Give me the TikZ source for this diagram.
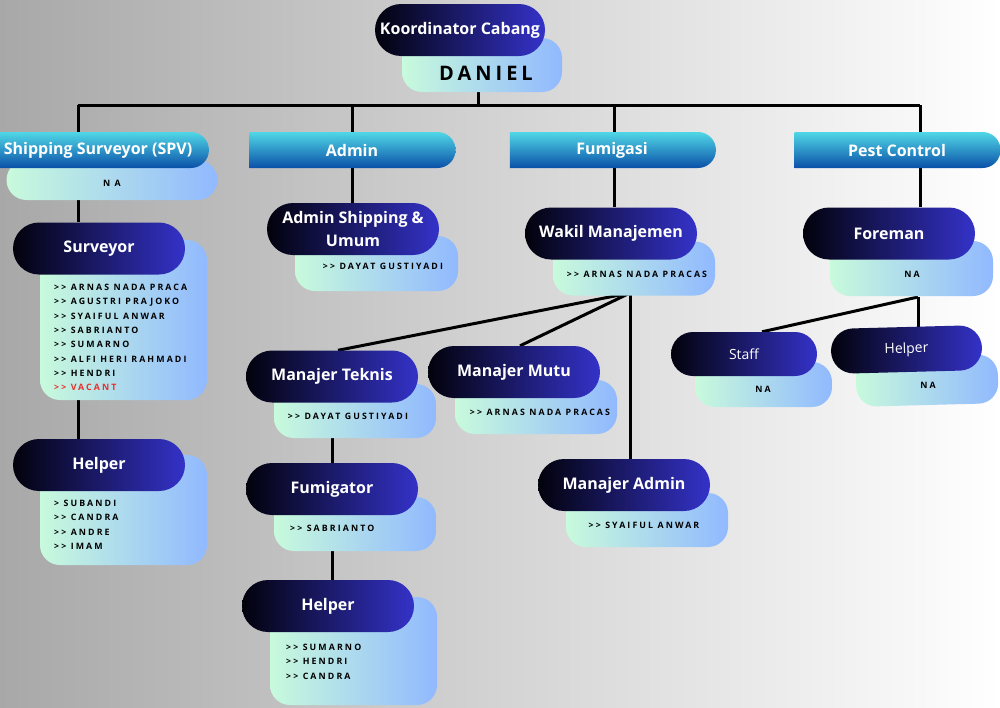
\documentclass[tikz,border=0pt]{standalone}
\usepackage{fontspec}
\setmainfont{Open Sans}
\newfontfamily\listfont[LetterSpace=24]{Open Sans}
\newfontfamily\namefont[LetterSpace=20]{Open Sans}
\usetikzlibrary{shapes.misc,backgrounds}
\definecolor{darkL}{RGB}{2,2,12}
\definecolor{darkR}{RGB}{52,50,200}
\definecolor{mintL}{RGB}{200,250,220}
\definecolor{blueL}{RGB}{145,185,255}
\definecolor{headT}{RGB}{80,215,230}
\definecolor{headB}{RGB}{10,80,168}
\definecolor{bgL}{RGB}{168,168,168}
\definecolor{vacant}{RGB}{235,45,45}
\newcommand{\arrw}{>{}>}

\begin{document}
\begin{tikzpicture}[x=1pt,y=-1pt,line cap=round,line join=round,
  rolebox/.style={rounded rectangle,left color=darkL,right color=darkR,text=white,
    font=\bfseries\fontsize{16}{23}\selectfont,minimum width=172,minimum height=52,inner sep=0pt},
  smallrole/.style={rolebox,font=\fontsize{14}{17}\selectfont,minimum width=150,minimum height=45},
  headbox/.style={rounded rectangle,rounded rectangle west arc=none,top color=headT,bottom color=headB,
    text=white,font=\bfseries\fontsize{16}{19}\selectfont,minimum width=206,minimum height=36,inner sep=0pt},
  namebox/.style={rectangle,rounded corners=20,left color=mintL,right color=blueL,minimum width=162,minimum height=54},
  listtext/.style={font=\listfont\bfseries\fontsize{8.8}{14.3}\selectfont,align=left,inner sep=0pt},
  conn/.style={line width=3,black}]
\useasboundingbox (0,0) rectangle (1000,707);

% top
\node[namebox,minimum width=160] (danbox) at (482,65) {};
\node[font=\namefont\bfseries\fontsize{20}{24}\selectfont] (daniel) at (486,73) {DANIEL};
\node[rolebox,minimum width=170] (koor) at (460,30) {Koordinator Cabang};
\coordinate (hub) at (478,105);
\coordinate (barL) at (78,105);
\coordinate (barR) at (920,105);
\coordinate (fumx) at (614,105);

% shipping surveyor
\node[namebox,minimum width=211,minimum height=40] (spvbox) at (112,180) {};
\node[listtext] (spvna) at (112,183) {N A};
\node[headbox,minimum width=220] (spv) at (98,150) {Shipping Surveyor (SPV)};
\node[namebox,minimum width=167,minimum height=160] (survbox) at (123.5,320) {};
\node[rolebox] (surv) at (99,248.5) {Surveyor};
\node[listtext,anchor=north west] (survlist) at (54,284) {\arrw{} ARNAS NADA PRACA\\ \arrw{} AGUSTRI PRAJOKO\\ \arrw{} SYAIFUL ANWAR\\
  \arrw{} SABRIANTO\\ \arrw{} SUMARNO\\ \arrw{} ALFI HERI RAHMADI\\ \arrw{} HENDRI\\ \textcolor{vacant}{\arrw{} VACANT}};
\node[namebox,minimum width=167,minimum height=110] (helpbox1) at (123.5,510) {};
\node[rolebox] (help1) at (99,465) {Helper};
\node[listtext,anchor=north west] (helplist1) at (54,500) {> SUBANDI\\ \arrw{} CANDRA\\ \arrw{} ANDRE\\ \arrw{} IMAM};

% admin
\node[headbox] (adm) at (352,150) {Admin};
\node[namebox,minimum width=163,minimum height=55] (admbox) at (376.5,263.5) {};
\node[listtext] (admname) at (383,266) {\arrw{} DAYAT GUSTIYADI};
\node[rolebox,align=center] (admsh) at (353,229) {Admin Shipping \&\\ Umum};

% fumigasi
\node[headbox] (fum) at (612,150) {Fumigasi};
\node[namebox] (wakbox) at (634,268.5) {};
\node[listtext] (wakname) at (637,274) {\arrw{} ARNAS NADA PRACAS};
\node[rolebox] (wakil) at (611,233.5) {Wakil Manajemen};
\coordinate (wk) at (630,293);
\node[namebox] (mtekbox) at (355,411) {};
\node[listtext] (mtekname) at (348,416) {\arrw{} DAYAT GUSTIYADI};
\node[rolebox] (mtek) at (332,376.5) {Manajer Teknis};
\node[namebox] (fumgbox) at (355,524) {};
\node[listtext,anchor=west] (fumgname) at (290,528) {\arrw{} SABRIANTO};
\node[rolebox] (fumg) at (332,489) {Fumigator};
\node[namebox,minimum width=167,minimum height=108] (helpbox2) at (353.5,651) {};
\node[rolebox] (help2) at (328,606) {Helper};
\node[listtext,anchor=north west] (helplist2) at (286,644) {\arrw{} SUMARNO\\ \arrw{} HENDRI\\ \arrw{} CANDRA};
\node[namebox] (mmutbox) at (536,407) {};
\node[listtext] (mmutname) at (540,412) {\arrw{} ARNAS NADA PRACAS};
\node[rolebox] (mmut) at (514,372) {Manajer Mutu};
\node[namebox] (madmbox) at (647,520) {};
\node[listtext] (madmname) at (644,525) {\arrw{} SYAIFUL ANWAR};
\node[rolebox] (madm) at (624,485) {Manajer Admin};

% pest control
\node[headbox] (pest) at (897,150) {Pest Control};
\node[namebox,minimum width=163,minimum height=55] (forebox) at (911.5,268.5) {};
\node[listtext] (forena) at (912,274) {NA};
\node[rolebox] (fore) at (889,233.5) {Foreman};
\coordinate (fm) at (918,297);
\node[namebox,minimum width=137,minimum height=45] (staffbox) at (763.5,384.5) {};
\node[listtext] (staffna) at (763,389) {NA};
\node[smallrole,minimum width=146,minimum height=44] (staff) at (744,354) {Staff};
\node[namebox,minimum width=142,minimum height=49,rotate=1.5] (help3box) at (927,380.5) {};
\node[listtext] (help3na) at (928,385) {NA};
\node[smallrole,minimum width=151,rotate=1.5] (help3) at (906.5,349.5) {Helper};

\begin{scope}[on background layer]
\fill[left color=bgL,right color=white] (0,0) rectangle (1000,707);
\draw[conn] (hub |- danbox.south) -- (hub);
\draw[conn] (barL) -- (barR);
\draw[conn] (barL) -- (barL |- surv.north);
\draw[conn] (barL |- survbox.south) -- (barL |- help1.north);
\draw[conn] (adm.north |- hub) -- (adm.north |- admsh.north);
\draw[conn] (fumx) -- (fumx |- wakil.north);
\draw[conn] (wk) -- ([xshift=6pt]mtek.north);
\draw[conn] (wk) -- ([xshift=6pt]mmut.north);
\draw[conn] (wk) -- (wk |- madm.north);
\draw[conn] (fumg.north |- mtekbox.south) -- (fumg.north);
\draw[conn] (fumg.north |- fumgbox.south) -- (fumg.north |- help2.north);
\draw[conn] (barR) -- (barR |- fore.north);
\draw[conn] (fm) -- ([xshift=18pt]staff.north);
\draw[conn] (fm) -- (fm |- help3.north);
\end{scope}
\end{tikzpicture}
\end{document}
